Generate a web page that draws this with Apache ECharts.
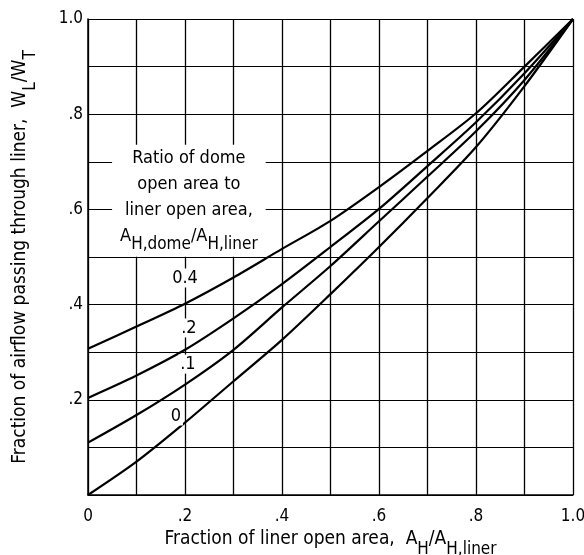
<!DOCTYPE html>
<html>
<head>
<meta charset="utf-8">
<script src="https://cdn.jsdelivr.net/npm/echarts@6/dist/echarts.min.js"></script>
<style>
html,body{margin:0;padding:0;background:#fff;}
#chart{width:584px;height:555px;}
</style>
</head>
<body>
<div id="chart"></div>
<script>
// ---- data ----
var xValues = [0, 0.1, 0.2, 0.3, 0.4, 0.5, 0.6, 0.7, 0.8, 0.9, 1.0];
var ratio04 = [0.307, 0.354, 0.402, 0.457, 0.517, 0.576, 0.647, 0.723, 0.802, 0.900, 1.0];
var ratio02 = [0.204, 0.251, 0.305, 0.371, 0.443, 0.521, 0.601, 0.691, 0.783, 0.886, 1.0];
var ratio01 = [0.110, 0.168, 0.232, 0.305, 0.394, 0.481, 0.575, 0.669, 0.764, 0.872, 1.0];
var ratio00 = [0.000, 0.070, 0.152, 0.239, 0.326, 0.422, 0.521, 0.624, 0.731, 0.859, 1.0];
var seriesNames = ['0.4', '.2', '.1', '0'];
var curveLabelPos = [[0.200, 0.456], [0.208, 0.351], [0.206, 0.275], [0.181, 0.166]];
var noteAnchor = [0.208, 0.618];
var xTickLabels = ['0', '.2', '.4', '.6', '.8', '1.0'];
var yTickLabels = ['', '.2', '.4', '.6', '.8', '1.0'];

var FONT = "'DejaVu Sans Condensed', 'Liberation Sans Narrow', 'DejaVu Sans', sans-serif";
var allSeries = [ratio04, ratio02, ratio01, ratio00];

function pairs(ys) { return xValues.map(function (x, i) { return [x, ys[i]]; }); }

var rich = {
  n: { fontFamily: FONT, fontSize: 19, color: '#000', lineHeight: 28, verticalAlign: 'top' },
  s: { fontFamily: FONT, fontSize: 17, color: '#000', lineHeight: 14, verticalAlign: 'bottom' }
};

function tickFmt(labels) {
  return function (v) {
    var k = Math.round(v * 10);
    if (k % 2 !== 0) return '';
    return labels[k / 2];
  };
}

var series = allSeries.map(function (ys, i) {
  return {
    type: 'line', name: seriesNames[i], data: pairs(ys), smooth: 0.3,
    showSymbol: false, symbol: 'none',
    lineStyle: { color: '#000', width: 2.2 }, z: 5, silent: true
  };
});

series.push({
  type: 'scatter', symbolSize: 0, silent: true, z: 6,
  itemStyle: { opacity: 1 },
  data: curveLabelPos.map(function (p, i) { return { value: p, name: seriesNames[i] }; }),
  label: {
    show: true, position: 'inside', formatter: function (p) { return p.name; },
    fontFamily: FONT, fontSize: 18, color: '#000', backgroundColor: '#fff', padding: [1, 2, 0, 2]
  }
});

series.push({
  type: 'scatter', symbolSize: 0, silent: true, z: 4,
  itemStyle: { opacity: 1 },
  data: [{ value: noteAnchor }],
  label: {
    show: true, position: 'inside', align: 'center',
    formatter: '{n|Ratio of dome}\n{n|open area to}\n{n|liner open area,}\n{n|A}{s|H,dome}{n|/A}{s|H,liner}',
    rich: {
      n: { fontFamily: FONT, fontSize: 18, color: '#000', lineHeight: 26, verticalAlign: 'top', align: 'center' },
      s: { fontFamily: FONT, fontSize: 17, color: '#000', lineHeight: 14, verticalAlign: 'bottom' }
    },
    backgroundColor: '#fff', padding: [4, 8, 4, 8]
  }
});

var chart = echarts.init(document.getElementById('chart'), null, { renderer: 'canvas' });
chart.setOption({
  animation: false,
  backgroundColor: '#fff',
  grid: { left: 88, right: 11, top: 19, bottom: 60, containLabel: false, outerBoundsMode: 'none' },
  xAxis: {
    type: 'value', min: 0, max: 1, interval: 0.1,
    axisLine: { show: true, lineStyle: { color: '#000', width: 1.5 } },
    axisTick: { show: false },
    splitLine: { show: true, lineStyle: { color: '#000', width: 1.3 } },
    axisLabel: { formatter: tickFmt(xTickLabels), fontFamily: FONT, fontSize: 17, color: '#000', margin: 13 },
    name: '{n|Fraction of liner open area,  A}{s|H}{n|/A}{s|H,liner}',
    nameLocation: 'middle', nameGap: 35,
    nameTextStyle: { rich: rich }
  },
  yAxis: {
    type: 'value', min: 0, max: 1, interval: 0.1,
    axisLine: { show: true, lineStyle: { color: '#000', width: 1.5 } },
    axisTick: { show: false },
    splitLine: { show: true, lineStyle: { color: '#000', width: 1.1 } },
    axisLabel: { formatter: tickFmt(yTickLabels), fontFamily: FONT, fontSize: 17, color: '#000', margin: 5 },
    name: '{n|Fraction of airflow passing through liner,  W}{s|L}{n|/W}{s|T}',
    nameLocation: 'middle', nameGap: 49, nameRotate: 90,
    nameTextStyle: { rich: rich }
  },
  series: series
});
</script>
</body>
</html>
